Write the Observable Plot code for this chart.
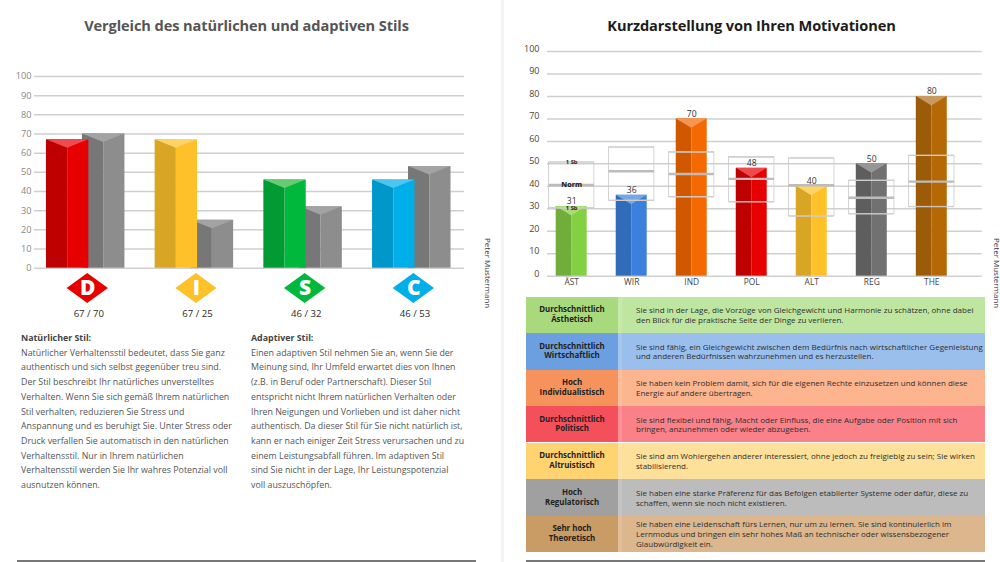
<!DOCTYPE html>
<html lang="de">
<head>
<meta charset="utf-8">
<script src="https://cdn.jsdelivr.net/npm/d3@7"></script>
<script src="https://cdn.jsdelivr.net/npm/@observablehq/plot@0.6"></script>
<style>
html,body{margin:0;padding:0;background:#fff;width:1000px;height:562px;overflow:hidden;font-family:"Open Sans",sans-serif}
#page{position:relative;width:1000px;height:562px;overflow:hidden}
#page svg{position:absolute;overflow:visible;background:transparent}
.abs{position:absolute;white-space:nowrap}
.title{font-family:"Open Sans",sans-serif;font-weight:700;font-size:14.6px;letter-spacing:-.1px;text-align:center;top:15px;line-height:20px}
.body{font-size:8.85px;line-height:14.7px;color:#555;top:331px}
.body b{color:#444}
.cellL,.cellR{position:absolute;display:flex;align-items:center;font-size:8px;line-height:9.8px;color:#2e2e2e}
.cellL{left:526px;width:92px;justify-content:center;text-align:center;font-weight:700;font-size:7.9px;color:#222}
.cellR{left:618px;width:367px;padding-left:14px;box-sizing:border-box;white-space:nowrap;border-left:4px solid rgba(255,255,255,.12)}
.name{font-size:8px;color:#333;transform-origin:0 0;transform:rotate(90deg)}
</style>
</head>
<body>
<div id="page"></div>
<script>
// left chart
const discLetters = ["D", "I", "S", "C"];
const naturalValues = [67, 67, 46, 46];
const adaptiveValues = [70, 25, 32, 53];
const discDark = ["#bf0000", "#d8a524", "#009b33", "#0098cb"];
const discLight = ["#e60000", "#ffc12a", "#00b83c", "#00aee8"];
const discTop = ["#ee4a50", "#ffd467", "#66cc72", "#4cc5f0"];
const leftTicks = [0, 10, 20, 30, 40, 50, 60, 70, 80, 90, 100];

// right chart
const motivCats = ["ÄST", "WIR", "IND", "POL", "ALT", "REG", "THE"];
const motivValues = [31, 36, 70, 48, 40, 50, 80];
const normTop = [50.7, 57.4, 55.2, 53, 52.5, 42.6, 53.7];
const normMid = [40.6, 46.7, 45.5, 43.3, 40.5, 34.9, 42.1];
const normBottom = [30.3, 33.7, 35.3, 33, 26.7, 27.7, 30.9];
const motivDark = ["#70ad3a", "#2f6cb9", "#d05800", "#bf0000", "#d8a524", "#5e5e5e", "#9b5b08"];
const motivLight = ["#83d142", "#3b80dc", "#f56a00", "#e60000", "#ffc12a", "#717171", "#b56905"];
const motivTop = ["#a6dd74", "#77a6e6", "#f79450", "#ee4a50", "#ffd467", "#979797", "#c99a5f"];

// table
const rowHead = [["Durchschnittlich","Ästhetisch"],["Durchschnittlich","Wirtschaftlich"],["Hoch","Individualistisch"],["Durchschnittlich","Politisch"],["Durchschnittlich","Altruistisch"],["Hoch","Regulatorisch"],["Sehr hoch","Theoretisch"]];
const rowText = [
 ["Sie sind in der Lage, die Vorzüge von Gleichgewicht und Harmonie zu schätzen, ohne dabei","den Blick für die praktische Seite der Dinge zu verlieren."],
 ["Sie sind fähig, ein Gleichgewicht zwischen dem Bedürfnis nach wirtschaftlicher Gegenleistung","und anderen Bedürfnissen wahrzunehmen und es herzustellen."],
 ["Sie haben kein Problem damit, sich für die eigenen Rechte einzusetzen und können diese","Energie auf andere übertragen."],
 ["Sie sind flexibel und fähig, Macht oder Einfluss, die eine Aufgabe oder Position mit sich","bringen, anzunehmen oder wieder abzugeben."],
 ["Sie sind am Wohlergehen anderer interessiert, ohne jedoch zu freigiebig zu sein; Sie wirken","stabilisierend."],
 ["Sie haben eine starke Präferenz für das Befolgen etablierter Systeme oder dafür, diese zu","schaffen, wenn sie noch nicht existieren."],
 ["Sie haben eine Leidenschaft fürs Lernen, nur um zu lernen. Sie sind kontinuierlich im","Lernmodus und bringen ein sehr hohes Maß an technischer oder wissensbezogener","Glaubwürdigkeit ein."]
];
const rowLeftColors = ["#a8d97c","#6c9fe0","#f6925c","#f4505c","#ffd36f","#a0a0a0","#c99b65"];
const rowRightColors = ["#bfe6a0","#9bbfec","#fdb590","#fb8189","#fde099","#bcbcbc","#dcb78d"];

const naturalText = ["Natürlicher Verhaltensstil bedeutet, dass Sie ganz","authentisch und sich selbst gegenüber treu sind.","Der Stil beschreibt Ihr natürliches unverstelltes","Verhalten. Wenn Sie sich gemäß Ihrem natürlichen","Stil verhalten, reduzieren Sie Stress und","Anspannung und es beruhigt Sie. Unter Stress oder","Druck verfallen Sie automatisch in den natürlichen","Verhaltensstil. Nur in Ihrem natürlichen","Verhaltensstil werden Sie Ihr wahres Potenzial voll","ausnutzen können."];
const adaptiveText = ["Einen adaptiven Stil nehmen Sie an, wenn Sie der","Meinung sind, Ihr Umfeld erwartet dies von Ihnen","(z.B. in Beruf oder Partnerschaft). Dieser Stil","entspricht nicht Ihrem natürlichen Verhalten oder","Ihren Neigungen und Vorlieben und ist daher nicht","authentisch. Da dieser Stil für Sie nicht natürlich ist,","kann er nach einiger Zeit Stress verursachen und zu","einem Leistungsabfall führen. Im adaptiven Stil","sind Sie nicht in der Lage, Ihr Leistungspotenzial","voll auszuschöpfen."];

const page = document.getElementById("page");
function addDiv(cls, html, css) {
  const d = document.createElement("div");
  d.className = cls; d.innerHTML = html; d.style.cssText = css || "";
  page.appendChild(d); return d;
}

// A 3D bar: dark left half, light right half, lighter wedge on top.
function bar3d(items, depth) {
  const tri = items.flatMap((b, k) => [
    {k, x: b.x1, y1: b.v, y2: b.v, f: b.top},
    {k, x: (b.x1 + b.x2) / 2, y1: b.v - depth, y2: b.v, f: b.top},
    {k, x: b.x2, y1: b.v, y2: b.v, f: b.top}
  ]);
  const plain = {y1: 0, y2: d => d.v};
  return [
    Plot.rect(items, {...plain, x1: "x1", x2: d => (d.x1 + d.x2) / 2, fill: "dark"}),
    Plot.rect(items, {...plain, x1: d => (d.x1 + d.x2) / 2, x2: "x2", fill: "light"}),
    Plot.areaY(tri, {x: "x", y1: "y1", y2: "y2", z: "k", fill: "f"})
  ];
}
const gridStyle = {stroke: "#cfcfcf", strokeWidth: 1.5};

// ---------- left chart ----------
const gray = {dark: "#777777", light: "#8d8d8d", top: "#a3a3a3"};
const grayBars = adaptiveValues.map((v, i) => ({x1: i + 0.331, x2: i + 0.722, v, ...gray}));
const colorBars = naturalValues.map((v, i) => ({x1: i, x2: i + 0.39, v, dark: discDark[i], light: discLight[i], top: discTop[i]}));
const diamonds = discLetters.flatMap((l, i) => [
  {i, x: i + 0.19, y1: -10.6, y2: -10.6, f: discLight[i]},
  {i, x: i + 0.38, y1: -18.4, y2: -2.8, f: discLight[i]},
  {i, x: i + 0.57, y1: -10.6, y2: -10.6, f: discLight[i]}
]);
const leftPlot = Plot.plot({
  width: 500, height: 340,
  marginLeft: 34, marginRight: 36, marginTop: 76, marginBottom: 72.3,
  style: {fontFamily: "Open Sans, sans-serif", background: "transparent", overflow: "visible"},
  x: {domain: [-0.11, 3.846], axis: null},
  y: {domain: [0, 100]},
  color: {type: "identity"},
  marks: [
    Plot.ruleY(leftTicks, gridStyle),
    Plot.axisY({ticks: leftTicks, tickSize: 0, tickPadding: 3, label: null, fontSize: 9.2, color: "#888"}),
    ...bar3d(grayBars, 4.4),
    ...bar3d(colorBars, 4.4),
    Plot.areaY(diamonds, {x: "x", y1: "y1", y2: "y2", z: "i", fill: "f"}),
    Plot.text(discLetters, {x: (d, i) => i + 0.38, y: -10.6, text: d => d, fill: "white", fontWeight: 800, fontSize: 21, fontFamily: "Open Sans, sans-serif"}),
    Plot.text(discLetters, {x: (d, i) => i + 0.39, y: -23.7, text: (d, i) => `${naturalValues[i]} / ${adaptiveValues[i]}`, fill: "#2a2a2a", fontSize: 9.6})
  ]
});
leftPlot.style.left = "0"; leftPlot.style.top = "0";
page.appendChild(leftPlot);

// ---------- right chart ----------
const motivBars = motivValues.map((v, i) => ({x1: i - 0.258, x2: i + 0.258, v, dark: motivDark[i], light: motivLight[i], top: motivTop[i]}));
const boxes = motivCats.map((c, i) => ({x1: i - 0.378, x2: i + 0.378, top: normTop[i], mid: normMid[i], bottom: normBottom[i]}));
const rightPlot = Plot.plot({
  width: 500, height: 300,
  marginLeft: 47, marginRight: 18.3, marginTop: 51, marginBottom: 24.3,
  style: {fontFamily: "Open Sans, sans-serif", background: "transparent", overflow: "visible"},
  x: {domain: [-0.403, 6.84]},
  y: {domain: [0, 100]},
  color: {type: "identity"},
  marks: [
    Plot.ruleY(leftTicks, gridStyle),
    Plot.axisY({ticks: leftTicks, tickSize: 0, tickPadding: 8, label: null, fontSize: 9, color: "#444", dy: -2.5}),
    Plot.axisX({ticks: d3.range(motivCats.length), tickFormat: i => motivCats[i], tickSize: 0, tickPadding: 3, label: null, fontSize: 8.4, color: "#444"}),
    ...bar3d(motivBars, 4.2),
    Plot.rect(boxes, {x1: "x1", x2: "x2", y1: "bottom", y2: "top", fill: "none", stroke: "#cacaca", strokeWidth: 0.8}),
    Plot.ruleY(boxes, {x1: "x1", x2: "x2", y: "top", stroke: "#cdcdcd", strokeWidth: 1.1}),
    Plot.ruleY(boxes, {x1: "x1", x2: "x2", y: "bottom", stroke: "#cdcdcd", strokeWidth: 1.1}),
    Plot.ruleY(boxes, {x1: "x1", x2: "x2", y: "mid", stroke: "#bcbcbc", strokeWidth: 2.4}),
    Plot.text(motivValues, {x: (d, i) => i, y: d => d, text: d => d, dy: -5, fill: "#333", fontSize: 8.6}),
    Plot.text(["1 Sb"], {x: 0, y: normTop[0], text: d => d, fontSize: 5.8, fontWeight: 700, fill: "#222"}),
    Plot.text(["1 Sb"], {x: 0, y: normBottom[0], text: d => d, fontSize: 5.8, fontWeight: 700, fill: "#222"}),
    Plot.text(["Norm"], {x: 0, y: normMid[0], text: d => d, fontSize: 7.2, fontWeight: 700, fill: "#111"})
  ]
});
rightPlot.style.left = "500px"; rightPlot.style.top = "0";
page.appendChild(rightPlot);

// ---------- page furniture ----------
addDiv("abs", "", "left:501px;top:0;width:3px;height:562px;background:#f4f4f4");
addDiv("abs", "", "left:17px;top:559.5px;width:459px;height:2px;background:#777");
addDiv("abs", "", "left:526px;top:559.5px;width:459px;height:2px;background:#777");
addDiv("abs title", "Vergleich des natürlichen und adaptiven Stils", "left:0;width:493px;color:#555");
addDiv("abs title", "Kurzdarstellung von Ihren Motivationen", "left:502px;width:499px;color:#1c1c1c");
addDiv("abs name", "Peter Mustermann", "left:494px;top:238px");
addDiv("abs name", "Peter Mustermann", "left:1003px;top:238px");
addDiv("abs body", "<b>Natürlicher Stil:</b><br>" + naturalText.join("<br>"), "left:21px");
addDiv("abs body", "<b>Adaptiver Stil:</b><br>" + adaptiveText.join("<br>"), "left:251px");

// ---------- table ----------
const rowEdges = [296.7, 333.3, 369.6, 406.3, 442.5, 479, 516, 552];
rowHead.forEach((h, i) => {
  const t = rowEdges[i], ht = rowEdges[i + 1] - t;
  addDiv("cellL", h.join("<br>"), `top:${t}px;height:${ht}px;background:${rowLeftColors[i]}`);
  addDiv("cellR", "<div>" + rowText[i].join("<br>") + "</div>", `top:${t}px;height:${ht}px;background:${rowRightColors[i]}`);
});
</script>
</body>
</html>
